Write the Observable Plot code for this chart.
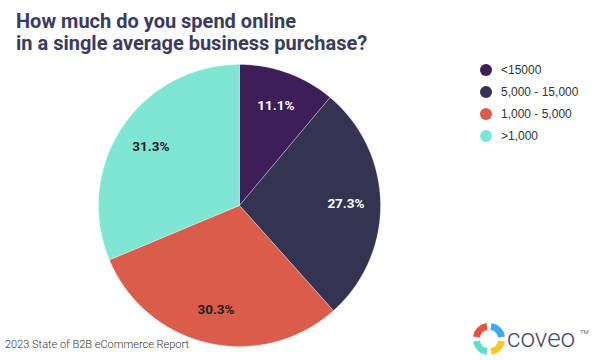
<!DOCTYPE html>
<html><head><meta charset="utf-8">
<script src="https://cdn.jsdelivr.net/npm/d3@7"></script>
<script src="https://cdn.jsdelivr.net/npm/@observablehq/plot@0.6"></script>
<style>
body{margin:0;background:#fff;font-family:Roboto,sans-serif;}
#wrap{position:relative;width:594px;height:360px;overflow:hidden;background:#fff;}
#chart{position:absolute;left:0;top:0;}
#title{position:absolute;left:16px;top:10px;font-size:20px;font-weight:700;line-height:22px;color:#3b3b5e;}
#legend{position:absolute;left:480px;top:59px;}
.row{display:flex;align-items:center;height:22px;font-size:12px;color:#333;font-family:"Liberation Sans",Arial,sans-serif;}
.dot{width:12px;height:12px;border-radius:50%;margin-right:9px;}
#caption{position:absolute;left:5px;top:338px;font-size:11px;color:#333;font-weight:300;}
#logo{position:absolute;left:472px;top:320px;}
</style></head><body><div id="wrap"><div id="chart"></div>
<div id="title">How much do you spend online<br>in a single average business purchase?</div>
<div id="legend"></div>
<div id="caption">2023 State of B2B eCommerce Report</div>
<svg id="logo" width="122" height="38" viewBox="0 0 122 38">
  <g fill="none" stroke-width="7">
    <path d="M4.5,17 A12.5,12.5 0 0 1 15,6.5" stroke="#e8503f"/>
    <path d="M19,6.5 A12.5,12.5 0 0 1 29.5,17" stroke="#3ea9ec"/>
    <path d="M29.5,21 A12.5,12.5 0 0 1 19,31.5" stroke="#f7c928"/>
    <path d="M15,31.5 A12.5,12.5 0 0 1 4.5,21" stroke="#5fe0c8"/>
  </g>
  <text x="35" y="27" font-family="Roboto, sans-serif" font-size="26" font-weight="300" fill="#4a4a62">coveo</text>
  <text x="108" y="14" font-family="Roboto, sans-serif" font-size="6" fill="#6a6a7a">TM</text>
</svg>
</div>
<script>
const categories = ["<15000", "5,000 - 15,000", "1,000 - 5,000", ">1,000"];
const shares = [11.1, 27.3, 30.3, 31.3];
const colors = ["#3e1e58", "#343452", "#da5c4a", "#80e6d4"];
const labelDark = [false, false, true, true];

const arcs = d3.pie().sort(null).value(d => d.share)(
  categories.map((c, i) => ({cat: c, share: shares[i], dark: labelDark[i]}))
);
const slices = arcs.map(a => ({...a.data, start: a.startAngle, end: a.endAngle, mid: (a.startAngle + a.endAngle) / 2}));

// outline of each wedge: centre, arc, centre
const outline = [];
for (const s of slices) {
  outline.push({cat: s.cat, x: 0, y: 0});
  const n = Math.max(8, Math.ceil((s.end - s.start) * 60));
  for (let k = 0; k <= n; k++) {
    const a = s.start + (s.end - s.start) * k / n;
    outline.push({cat: s.cat, x: Math.sin(a), y: Math.cos(a)});
  }
  outline.push({cat: s.cat, x: 0, y: 0});
}
const lr = 0.755;
const lx = d => lr * Math.sin(d.mid), ly = d => lr * Math.cos(d.mid);
const txt = d => d.share.toFixed(1) + "%";

const chart = Plot.plot({
  width: 594, height: 360,
  margin: 0,
  x: {domain: [-1, 1], range: [98, 380], axis: null},
  y: {domain: [-1, 1], range: [346, 64], axis: null},
  color: {domain: categories, range: colors},
  marks: [
    Plot.line(outline, {x: "x", y: "y", z: "cat", fill: "cat", stroke: "#ffffff", strokeWidth: 0.6, strokeOpacity: 0.5, curve: "linear"}),
    Plot.text(slices.filter(d => !d.dark), {x: lx, y: ly, text: txt, fill: "#ffffff", fontSize: 13.5, fontWeight: 700, fontFamily: "Roboto, sans-serif"}),
    Plot.text(slices.filter(d => d.dark), {x: lx, y: ly, text: txt, fill: "#222222", fontSize: 13.5, fontWeight: 700, fontFamily: "Roboto, sans-serif"})
  ]
});
document.getElementById("chart").appendChild(chart);

const legend = document.getElementById("legend");
categories.forEach((c, i) => {
  const row = document.createElement("div");
  row.className = "row";
  const dot = document.createElement("span");
  dot.className = "dot";
  dot.style.background = colors[i];
  const t = document.createElement("span");
  t.textContent = c;
  row.appendChild(dot); row.appendChild(t);
  legend.appendChild(row);
});
</script>
</body></html>
